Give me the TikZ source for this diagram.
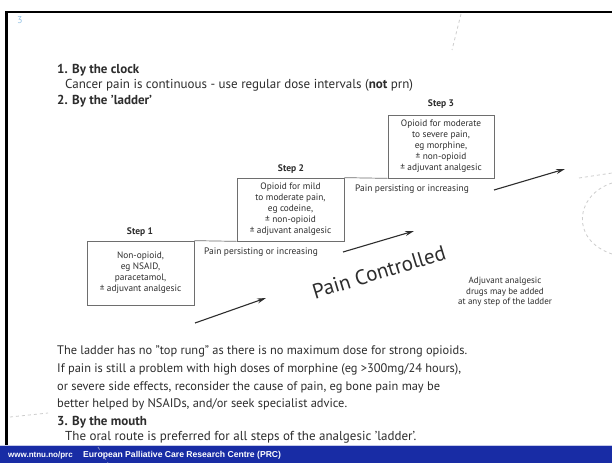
\documentclass[tikz,border=0pt]{standalone}
\usepackage{fontspec}
\setmainfont{PT Sans}
\newfontfamily\footfont{Liberation Sans}
\usetikzlibrary{arrows.meta}
\definecolor{txt}{RGB}{45,45,45}
\definecolor{boxline}{RGB}{110,110,110}
\definecolor{footblue}{RGB}{24,44,165}
\definecolor{numblue}{RGB}{150,195,228}
\definecolor{decog}{RGB}{205,205,205}
\begin{document}
\begin{tikzpicture}[x=1pt,y=-1pt,
  stepbox/.style={draw=boxline, line width=0.7pt, minimum width=107pt, minimum height=63pt, inner sep=0pt, align=center, font=\fontsize{9.3}{11}\selectfont, text=txt},
  steplabel/.style={font=\bfseries\fontsize{9.5}{10}\selectfont, text=txt, inner sep=0pt},
  small/.style={font=\fontsize{9.4}{10.8}\selectfont, text=txt, inner sep=0pt},
  body/.style={font=\fontsize{13}{14}\selectfont, text=txt, anchor=base west, inner sep=0pt},
  para/.style={font=\fontsize{12.4}{18}\selectfont, text=txt, anchor=base west, inner sep=0pt},
  arr/.style={-{Stealth[length=9pt,width=5pt]}, line width=1.1pt, draw=txt},
  decoline/.style={draw=decog, dashed, line width=0.8pt},
  foot/.style={font=\footfont\bfseries\fontsize{8.6}{10}\selectfont, text=white, anchor=west, inner sep=0pt}
]
\useasboundingbox (0,0) rectangle (612,463);
\fill[white] (0,0) rectangle (612,463);
% frame
\fill[black] (5,10.5) rectangle (612,12.5);
\fill[black] (5,10.5) rectangle (8,446);
% decorations
\draw[decoline] (461,14) -- (452,50);
\draw[decoline] (579,178) -- (612,173);
\draw[decoline] (612,183) .. controls (575,195) and (570,240) .. (612,254);
\draw[decoline] (10,417) -- (48,413);
% slide number
\node[font=\fontsize{10}{11}\selectfont, text=numblue, anchor=west, inner sep=0pt] (num) at (17,20) {3};
% headings
\node[body] (h1) at (57,73) {\bfseries 1. By the clock};
\node[body] (t1) at (65,88) {Cancer pain is continuous - use regular dose intervals (\textbf{not} prn)};
\node[body] (h2) at (57,104) {\bfseries 2. By the 'ladder'};
% step boxes
\node[stepbox, minimum height=64pt] (s1) at (140.5,273) {Non-opioid,\\eg NSAID,\\paracetamol,\\± adjuvant analgesic};
\node[stepbox] (s2) at (290.5,209.5) {Opioid for mild\\to moderate pain,\\eg codeine,\\± non-opioid\\± adjuvant analgesic};
\node[stepbox, minimum width=106pt] (s3) at (441,146.5) {Opioid for moderate\\to severe pain,\\eg morphine,\\± non-opioid\\± adjuvant analgesic};
\draw[boxline, line width=0.7pt] (s1.north east) -- (s2.south west);
\draw[boxline, line width=0.7pt] (s2.north east) -- (s3.south west);
\node[steplabel] (l1) at (140,232) {Step 1};
\node[steplabel] (l2) at (291,169) {Step 2};
\node[steplabel] (l3) at (441,104) {Step 3};
\node[small, anchor=west] (p1) at (204,252) {Pain persisting or increasing};
\node[small, anchor=west] (p2) at (355,189) {Pain persisting or increasing};
% arrows
\coordinate (a1s) at (195,323); \coordinate (a1e) at (266,298);
\coordinate (a2s) at (343,252); \coordinate (a2e) at (414,231);
\coordinate (a3s) at (494,190); \coordinate (a3e) at (565,169);
\draw[arr] (a1s) -- (a1e);
\draw[arr] (a2s) -- (a2e);
\draw[arr] (a3s) -- (a3e);
\node[font=\fontsize{21}{23}\selectfont, text=txt, rotate=17, inner sep=0pt] (pc) at (379,272) {Pain Controlled};
\node[small, align=center, font=\fontsize{9}{10.5}\selectfont] (adj) at (505,292) {Adjuvant analgesic\\drugs may be added\\at any step of the ladder};
% paragraph
\node[para] (q1) at (57,354) {The ladder has no "top rung" as there is no maximum dose for strong opioids.};
\node[para] (q2) at (57,372) {If pain is still a problem with high doses of morphine (eg >300mg/24 hours),};
\node[para] (q3) at (57,390) {or severe side effects, reconsider the cause of pain, eg bone pain may be};
\node[para] (q4) at (57,407) {better helped by NSAIDs, and/or seek specialist advice.};
\node[body] (h3) at (57,425) {\bfseries 3. By the mouth};
\node[body] (t3) at (65,440) {The oral route is preferred for all steps of the analgesic 'ladder'.};
% footer
\fill[footblue] (0,446) rectangle (612,463);
\draw[white!75!footblue, line width=0.8pt] (0,445.6) -- (612,445.6);
\draw[decog!60!footblue, dashed, line width=0.8pt] (98,447) -- (108,463);
\node[foot, font=\footfont\bfseries\fontsize{8}{10}\selectfont] (f1) at (8,455) {www.ntnu.no/prc};
\node[foot] (f2) at (83,455) {European Palliative Care Research Centre (PRC)};
\end{tikzpicture}
\end{document}
